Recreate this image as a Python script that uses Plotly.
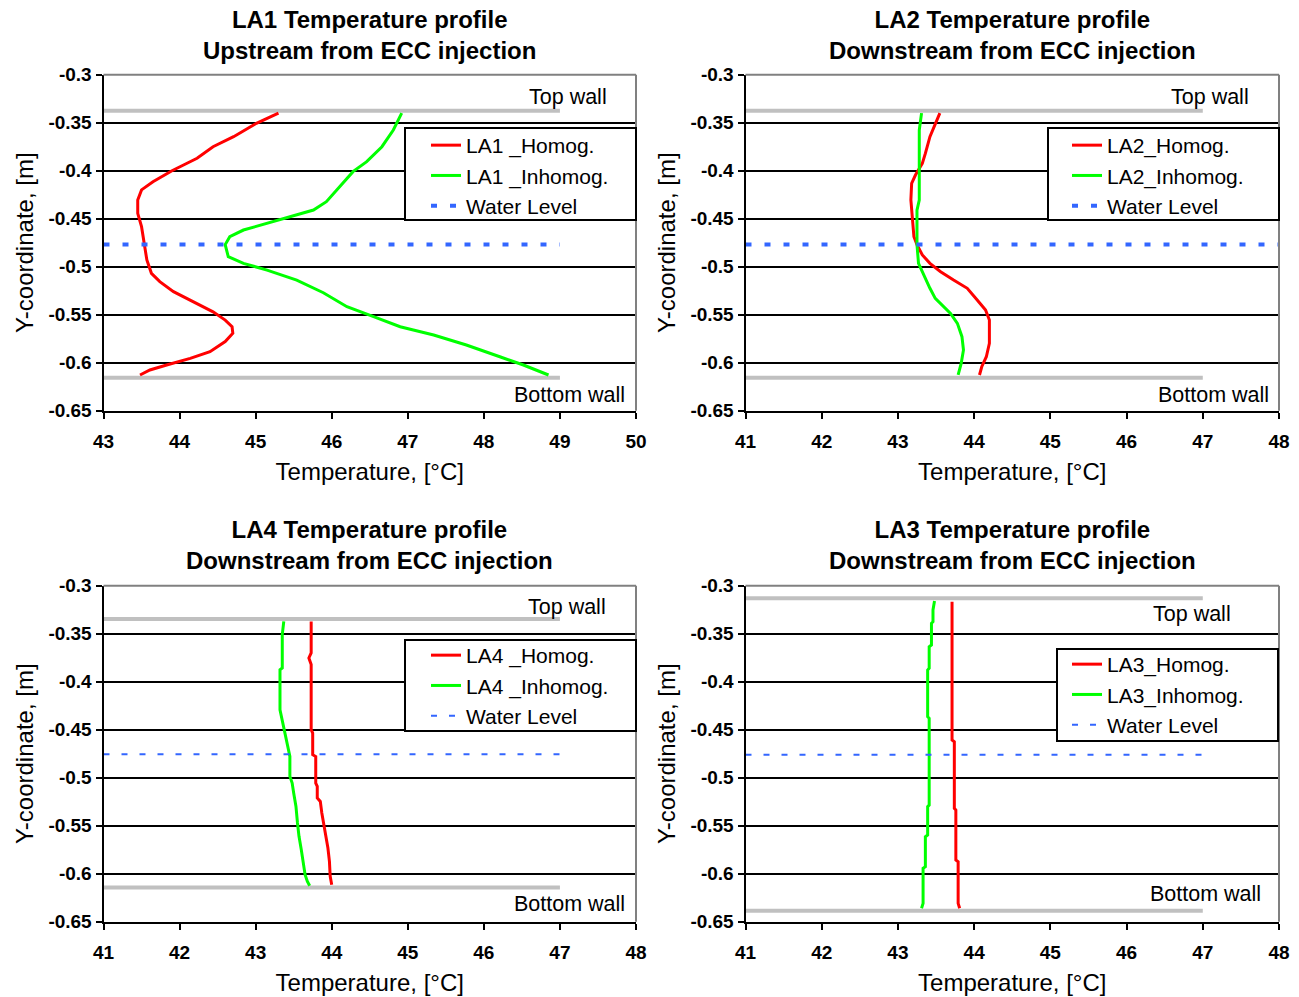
import plotly.graph_objects as go

# ---------------- data ----------------
# LA1 (upstream)
la1_hom_T = [45.30, 45.01, 44.71, 44.44, 44.23, 43.90, 43.65, 43.50, 43.45, 43.45, 43.50, 43.54, 43.57, 43.63,
             43.74, 43.92, 44.18, 44.44, 44.60, 44.69, 44.70, 44.60, 44.40, 44.14, 43.83, 43.61, 43.48]
la1_hom_y = [-0.340, -0.3506, -0.3646, -0.375, -0.387, -0.400, -0.4115, -0.420, -0.4305, -0.4444, -0.4583, -0.477,
             -0.493, -0.5069, -0.5156, -0.526, -0.5365, -0.547, -0.5556, -0.5625, -0.5694, -0.578, -0.5885, -0.5955,
             -0.6024, -0.6076, -0.6128]
la1_inh_T = [46.92, 46.81, 46.66, 46.46, 46.28, 46.11, 45.93, 45.76, 45.45, 45.15, 44.84, 44.66, 44.60, 44.64,
             44.84, 45.15, 45.54, 45.89, 46.20, 46.55, 46.90, 47.34, 47.77, 48.21, 48.52, 48.85]
la1_inh_y = [-0.340, -0.3576, -0.375, -0.3906, -0.401, -0.4167, -0.4323, -0.441, -0.448, -0.4548, -0.4618, -0.4688,
             -0.477, -0.4896, -0.4965, -0.5035, -0.5139, -0.5271, -0.5417, -0.5521, -0.5625, -0.5712, -0.5816,
             -0.5938, -0.6024, -0.6128]

# LA2 (downstream)
la2_hom_T = [43.55, 43.49, 43.42, 43.36, 43.32, 43.23, 43.18, 43.17, 43.19, 43.21, 43.25, 43.32, 43.42, 43.56,
             43.73, 43.91, 44.04, 44.15, 44.20, 44.20, 44.16, 44.10, 44.07]
la2_hom_y = [-0.340, -0.3506, -0.3646, -0.382, -0.3924, -0.4045, -0.4131, -0.4305, -0.4479, -0.4688, -0.477,
             -0.4878, -0.4965, -0.5052, -0.5139, -0.5225, -0.5347, -0.5451, -0.5556, -0.5798, -0.5938, -0.6042,
             -0.6128]
la2_inh_T = [43.31, 43.28, 43.28, 43.28, 43.25, 43.25, 43.27, 43.32, 43.36, 43.42, 43.49, 43.58, 43.69, 43.78,
             43.84, 43.86, 43.83, 43.79]
la2_inh_y = [-0.340, -0.3576, -0.3958, -0.4305, -0.441, -0.477, -0.4965, -0.5052, -0.5139, -0.5225, -0.533,
             -0.540, -0.5486, -0.559, -0.5729, -0.5868, -0.6007, -0.6128]

# LA4 (downstream)
la4_hom_T = [43.73, 43.73, 43.70, 43.73, 43.73, 43.75, 43.75, 43.79, 43.79, 43.81, 43.81, 43.85, 43.87, 43.90,
             43.93, 43.95, 43.97, 43.98, 44.00]
la4_hom_y = [-0.3372, -0.370, -0.3753, -0.382, -0.450, -0.4535, -0.476, -0.478, -0.5056, -0.509, -0.521, -0.5247,
             -0.5368, -0.5507, -0.5611, -0.5733, -0.5872, -0.6028, -0.6115]
la4_inh_T = [43.37, 43.35, 43.35, 43.32, 43.32, 43.35, 43.37, 43.40, 43.43, 43.45, 43.45, 43.48, 43.50, 43.53,
             43.55, 43.57, 43.60, 43.63, 43.65, 43.68, 43.71]
la4_inh_y = [-0.3372, -0.351, -0.3858, -0.3875, -0.4292, -0.4396, -0.4466, -0.457, -0.4674, -0.4778, -0.4986,
             -0.5056, -0.516, -0.5299, -0.5472, -0.5611, -0.575, -0.5889, -0.601, -0.608, -0.6125]

# LA3 (downstream)
la3_hom_T = [43.71, 43.71, 43.74, 43.74, 43.76, 43.76, 43.79, 43.79, 43.81]
la3_hom_y = [-0.3167, -0.4607, -0.4625, -0.5319, -0.5337, -0.5858, -0.5875, -0.6309, -0.636]
la3_inh_T = [43.48, 43.46, 43.46, 43.44, 43.44, 43.41, 43.41, 43.39, 43.39, 43.41, 43.41, 43.39, 43.39, 43.36,
             43.36, 43.33, 43.33, 43.31]
la3_inh_y = [-0.316, -0.3253, -0.3375, -0.3392, -0.3618, -0.3635, -0.386, -0.3878, -0.4364, -0.4382, -0.5285,
             -0.5302, -0.5597, -0.5615, -0.5927, -0.5944, -0.6309, -0.636]

# walls and water level per panel
walls_top = [-0.3375, -0.3375, -0.3347, -0.3131]
walls_bottom = [-0.6156, -0.6156, -0.6143, -0.6385]
water_level = [-0.477, -0.477, -0.4757, -0.476]
wall_x = [[43, 49], [41, 47], [41, 47], [41, 47]]
water_x = [[43, 49], [41, 48], [41, 47], [41, 47]]

x_ranges = [[43, 50], [41, 48], [41, 48], [41, 48]]
y_tick_vals = [-0.3, -0.35, -0.4, -0.45, -0.5, -0.55, -0.6, -0.65]
y_tick_text = ["-0.3", "-0.35", "-0.4", "-0.45", "-0.5", "-0.55", "-0.6", "-0.65"]

titles = ["LA1 Temperature profile<br>Upstream from ECC injection",
          "LA2 Temperature profile<br>Downstream from ECC injection",
          "LA4 Temperature profile<br>Downstream from ECC injection",
          "LA3 Temperature profile<br>Downstream from ECC injection"]
hom_names = ["LA1 _Homog.", "LA2_Homog.", "LA4 _Homog.", "LA3_Homog."]
inh_names = ["LA1 _Inhomog.", "LA2_Inhomog.", "LA4 _Inhomog.", "LA3_Inhomog."]
hom_data = [(la1_hom_T, la1_hom_y), (la2_hom_T, la2_hom_y), (la4_hom_T, la4_hom_y), (la3_hom_T, la3_hom_y)]
inh_data = [(la1_inh_T, la1_inh_y), (la2_inh_T, la2_inh_y), (la4_inh_T, la4_inh_y), (la3_inh_T, la3_inh_y)]

# ---------------- layout geometry ----------------
W, H = 1299, 997
FONT = "Liberation Sans, Arial, sans-serif"
xdoms = [[103.5 / W, 636 / W], [745.5 / W, 1279 / W], [103.5 / W, 636 / W], [745.5 / W, 1279 / W]]
ydoms = [[1 - 410.7 / H, 1 - 74.7 / H], [1 - 410.7 / H, 1 - 74.7 / H],
         [1 - 921.7 / H, 1 - 585.7 / H], [1 - 921.7 / H, 1 - 585.7 / H]]
water_style = [dict(width=4, dash="6px,13px"), dict(width=4, dash="6px,13px"),
               dict(width=2, dash="6px,12px"), dict(width=2, dash="6px,12px")]
legend_pos = [(426, 125), (1067, 125), (426, 635), (1067, 644)]           # top-left of legend items
legend_box = [(405, 128, 636, 220), (1048, 128, 1279, 220), (405, 640, 636, 731), (1057, 649, 1278, 741)]
title_y = [35, 35, 545, 545]
top_wall_lbl = [(49.65, -0.3232), (47.63, -0.3232), (47.63, -0.3222), (47.39, -0.3295)]
bot_wall_lbl = [(49.88, -0.6337), (47.89, -0.6337), (47.88, -0.6316), (47.79, -0.6211)]

fig = go.Figure()
annotations = []
shapes = []
for i in range(4):
    n = "" if i == 0 else str(i + 1)
    xa, ya = "x" + n, "y" + n
    leg = "legend" if i == 0 else "legend" + str(i + 1)
    for wy in (walls_top[i], walls_bottom[i]):
        fig.add_trace(go.Scatter(x=wall_x[i], y=[wy, wy], mode="lines", line=dict(color="#C0C0C0", width=4),
                                 showlegend=False, hoverinfo="skip", xaxis=xa, yaxis=ya))
    fig.add_trace(go.Scatter(x=hom_data[i][0], y=hom_data[i][1], mode="lines", name=hom_names[i],
                             line=dict(color="#FF0000", width=3), xaxis=xa, yaxis=ya, legend=leg))
    fig.add_trace(go.Scatter(x=inh_data[i][0], y=inh_data[i][1], mode="lines", name=inh_names[i],
                             line=dict(color="#00FF00", width=3), xaxis=xa, yaxis=ya, legend=leg))
    fig.add_trace(go.Scatter(x=water_x[i], y=[water_level[i], water_level[i]], mode="lines", name="Water Level",
                             line=dict(color="#3366FF", **water_style[i]), xaxis=xa, yaxis=ya, legend=leg))

    axx = dict(domain=xdoms[i], range=x_ranges[i], anchor=ya, dtick=1, tick0=41, automargin=False,
               showline=True, linecolor="black", linewidth=2, ticks="outside", ticklen=6, tickwidth=2,
               tickcolor="black", showgrid=False, zeroline=False, ticklabelstandoff=6,
               tickfont=dict(family=FONT, size=19, weight="bold", color="black"),
               title=dict(text="Temperature, [°C]", font=dict(family=FONT, size=24, color="black"), standoff=13))
    axy = dict(domain=ydoms[i], range=[-0.65, -0.3], anchor=xa, tickvals=y_tick_vals, ticktext=y_tick_text,
               automargin=False,
               showline=True, linecolor="black", linewidth=2, ticks="outside", ticklen=6, tickwidth=2,
               tickcolor="black", showgrid=True, gridcolor="black", gridwidth=2, zeroline=False,
               tickfont=dict(family=FONT, size=19, weight="bold", color="black"),
               title=dict(text="Y-coordinate, [m]", font=dict(family=FONT, size=24, color="black"), standoff=8))
    fig.update_layout(**{"xaxis" + n: axx, "yaxis" + n: axy})

    # gray top & right border of the plot area
    shapes.append(dict(type="line", xref=xa + " domain", yref=ya + " domain", x0=0, x1=1, y0=1, y1=1,
                       line=dict(color="#808080", width=2), layer="above"))
    shapes.append(dict(type="line", xref=xa + " domain", yref=ya + " domain", x0=1, x1=1, y0=0, y1=1,
                       line=dict(color="#808080", width=2), layer="above"))
    # legend frame
    bx0, by0, bx1, by1 = legend_box[i]
    shapes.append(dict(type="rect", xref="paper", yref="paper", x0=bx0 / W, x1=bx1 / W, y0=1 - by1 / H,
                       y1=1 - by0 / H, fillcolor="white", line=dict(color="black", width=2), layer="above"))

    annotations.append(dict(text="<b>" + titles[i].replace("<br>", "</b><br><b>") + "</b>", xref="paper", yref="paper",
                            x=(xdoms[i][0] + xdoms[i][1]) / 2, y=1 - title_y[i] / H, xanchor="center",
                            yanchor="middle", showarrow=False, font=dict(family=FONT, size=24, color="black")))
    annotations.append(dict(text="Top wall", xref=xa, yref=ya, x=top_wall_lbl[i][0], y=top_wall_lbl[i][1],
                            xanchor="right", yanchor="middle", showarrow=False,
                            font=dict(family=FONT, size=21.5, color="black")))
    annotations.append(dict(text="Bottom wall", xref=xa, yref=ya, x=bot_wall_lbl[i][0], y=bot_wall_lbl[i][1],
                            xanchor="right", yanchor="middle", showarrow=False,
                            font=dict(family=FONT, size=21.5, color="black")))

    lx, ly = legend_pos[i]
    fig.update_layout(**{leg: dict(x=lx / W, y=1 - ly / H, xanchor="left", yanchor="top", xref="paper",
                                   yref="paper", bgcolor="rgba(0,0,0,0)", borderwidth=0,
                                   font=dict(family=FONT, size=21, color="black"), tracegroupgap=0)})

fig.update_layout(width=W, height=H, margin=dict(l=0, r=0, t=0, b=0, autoexpand=False), plot_bgcolor="white",
                  paper_bgcolor="white", annotations=annotations, shapes=shapes, showlegend=True)

fig.write_html("out.html")
